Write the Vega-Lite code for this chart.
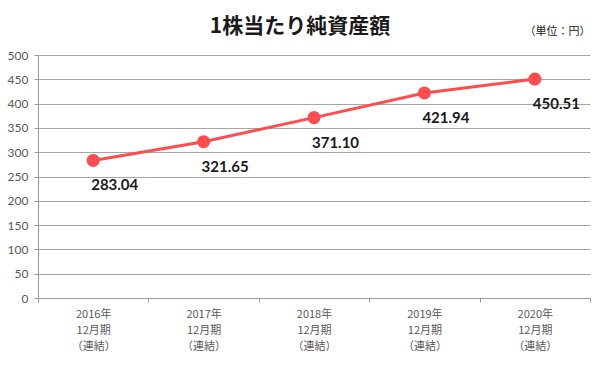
{
  "$schema": "https://vega.github.io/schema/vega-lite/v6.json",
  "width": 552,
  "height": 243,
  "autosize": {"type": "none"},
  "padding": {"left": 38, "top": 55, "right": 15, "bottom": 92},
  "background": "white",
  "title": {
    "text": "1株当たり純資産額",
    "font": "Noto Sans CJK JP",
    "fontSize": 21,
    "fontWeight": "bold",
    "color": "#1a1a1a",
    "anchor": "middle",
    "dx": -14,
    "offset": -12
  },
  "data": {
    "values": [
      {"year": "2016年", "value": 283.04},
      {"year": "2017年", "value": 321.65},
      {"year": "2018年", "value": 371.10},
      {"year": "2019年", "value": 421.94},
      {"year": "2020年", "value": 450.51}
    ]
  },
  "layer": [
    {
      "encoding": {
        "x": {
          "field": "year",
          "type": "ordinal",
          "sort": null,
          "scale": {"type": "band", "paddingInner": 0, "paddingOuter": 0},
          "axis": {
            "orient": "bottom",
            "title": null,
            "labelAngle": 0,
            "labelExpr": "datum.label ? [datum.label, '12月期', '（連結）'] : ''",
            "labelFont": "Noto Sans CJK JP",
            "labelFontSize": 11,
            "labelLineHeight": 16,
            "labelColor": "#595959",
            "labelPadding": 6,
            "tickBand": "extent",
            "tickSize": 4,
            "tickColor": "#999999",
            "domainColor": "#999999",
            "grid": false
          }
        },
        "y": {
          "field": "value",
          "type": "quantitative",
          "scale": {"domain": [0, 500], "nice": false},
          "axis": {
            "title": null,
            "values": [0, 50, 100, 150, 200, 250, 300, 350, 400, 450, 500],
            "labelFont": "Lato",
            "labelFontSize": 12,
            "labelColor": "#595959",
            "labelPadding": 6,
            "tickSize": 4,
            "tickColor": "#999999",
            "domainColor": "#999999",
            "grid": true,
            "gridColor": "#a6a6a6",
            "gridWidth": 1
          }
        }
      },
      "layer": [
        {
          "mark": {"type": "line", "color": "#ff4d4f", "strokeWidth": 3},
          "encoding": {}
        },
        {
          "mark": {"type": "circle", "color": "#ff4d4f", "opacity": 1, "size": 170},
          "encoding": {}
        },
        {
          "mark": {
            "type": "text",
            "font": "Lato",
            "fontSize": 15,
            "fontWeight": "bold",
            "color": "#1a1a1a",
            "align": "left",
            "baseline": "middle",
            "dx": -2,
            "dy": 25
          },
          "encoding": {"text": {"field": "value", "type": "quantitative", "format": ".2f"}}
        }
      ]
    },
    {
      "mark": {"type": "text", "opacity": 0},
      "encoding": {
        "text": {"value": ""},
        "x": {
          "field": "year",
          "type": "ordinal",
          "sort": null,
          "axis": {
            "orient": "top",
            "title": "（単位：円）",
            "titleFont": "Noto Sans CJK JP",
            "titleFontSize": 11,
            "titleFontWeight": "normal",
            "titleColor": "#1a1a1a",
            "titleAnchor": "end",
            "titlePadding": 19,
            "labels": false,
            "ticks": false,
            "domain": false,
            "grid": false
          }
        }
      }
    }
  ],
  "resolve": {"axis": {"x": "independent"}},
  "config": {
    "view": {"stroke": null}
  }
}
